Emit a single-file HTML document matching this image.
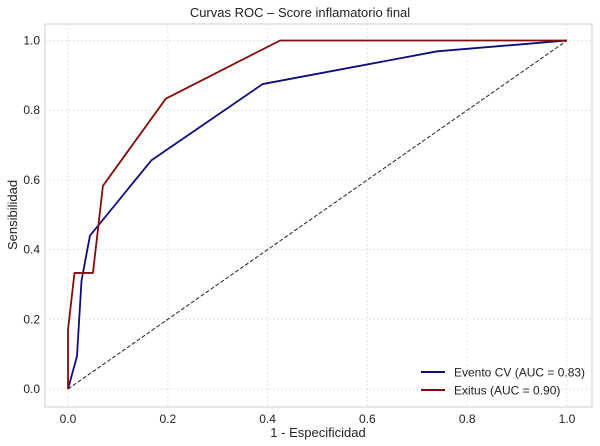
<!DOCTYPE html>
<html><head><meta charset="utf-8"><style>
body{margin:0;background:#fff;}
svg{display:block;font-family:"Liberation Sans",sans-serif;}
</style></head><body>
<svg id="c" width="600" height="446">
<rect x="45" y="24" width="547" height="383" fill="#fff" stroke="#ccc" stroke-width="1"/>
<g id="grid"></g><g id="ticks"></g><g id="series"></g>
<text x="300" y="17" text-anchor="middle" font-size="13" fill="#222">Curvas ROC – Score inflamatorio final</text>
<text x="318" y="437" text-anchor="middle" font-size="13" fill="#222">1 - Especificidad</text>
<text transform="translate(17,215) rotate(-90)" text-anchor="middle" font-size="13" fill="#222">Sensibilidad</text>
<g>
<line x1="421" y1="372" x2="445" y2="372" stroke="#0d0d80" stroke-width="2"/>
<text x="454" y="376.5" font-size="12" fill="#222">Evento CV (AUC = 0.83)</text>
<line x1="421" y1="390" x2="445" y2="390" stroke="#850a0a" stroke-width="2"/>
<text x="454" y="394.5" font-size="12" fill="#222">Exitus (AUC = 0.90)</text>
</g>
</svg>
<script>
const ticks=[0,0.2,0.4,0.6,0.8,1.0];
const tickLabels=["0.0","0.2","0.4","0.6","0.8","1.0"];
const eventoFpr=[0,0.018,0.027,0.044,0.167,0.39,0.74,1];
const eventoTpr=[0,0.094,0.31,0.44,0.656,0.875,0.969,1];
const exitusFpr=[0,0,0.013,0.05,0.07,0.196,0.425,1];
const exitusTpr=[0,0.17,0.333,0.333,0.583,0.833,1,1];
const NS="http://www.w3.org/2000/svg";
const X=v=>68+v*499, Y=v=>389-v*348.5;
function mk(t,a,p){const e=document.createElementNS(NS,t);for(const k in a)e.setAttribute(k,a[k]);p.appendChild(e);return e;}
const g=document.getElementById('grid'),tk=document.getElementById('ticks'),s=document.getElementById('series');
ticks.forEach((t,i)=>{
 let l=mk('line',{x1:X(t),x2:X(t),y1:24,y2:407,stroke:'#e3e3e3','stroke-dasharray':'2,2'},g);
 
 
 l=mk('line',{x1:45,x2:592,y1:Y(t),y2:Y(t),stroke:'#e3e3e3','stroke-dasharray':'2,2'},g);
 
 
 let e=mk('text',{x:X(t),y:423,'text-anchor':'middle','font-size':12,fill:'#222'},tk);e.textContent=tickLabels[i];
 
 
 e=mk('text',{x:40,y:Y(t)+4,'text-anchor':'end','font-size':12,fill:'#222'},tk);e.textContent=tickLabels[i];
 
 
});
let d=mk('line',{x1:X(0),y1:Y(0),x2:X(1),y2:Y(1),stroke:'#222','stroke-width':1,'stroke-dasharray':'4,2'},s);


function poly(xs,ys,c,n){const p=mk('polyline',{points:xs.map((x,i)=>X(x)+','+Y(ys[i])).join(' '),fill:'none',stroke:c,'stroke-width':1.8,'stroke-linejoin':'round'},s);
 
 }
poly(eventoFpr,eventoTpr,'#0d0d80','evento-cv-curve');
poly(exitusFpr,exitusTpr,'#850a0a','exitus-curve');
</script>
</body></html>
